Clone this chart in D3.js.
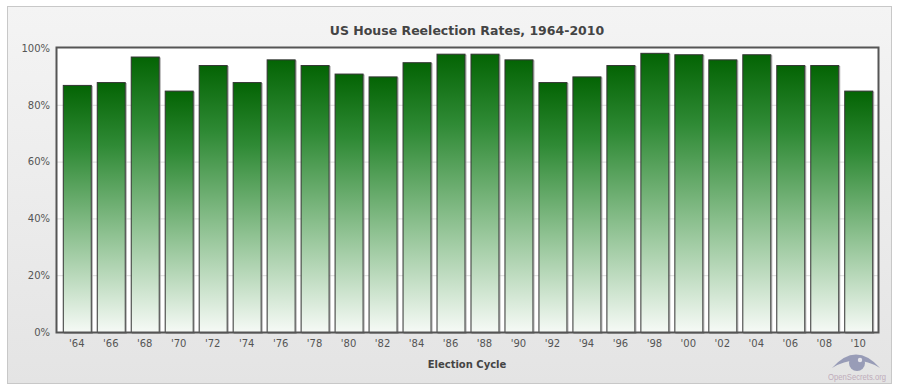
<!DOCTYPE html>
<html><head><meta charset="utf-8">
<script src="https://cdn.jsdelivr.net/npm/d3@7"></script>
<style>body{margin:0;background:#fff;}svg{display:block;font-family:"DejaVu Sans",Verdana,sans-serif;}</style>
</head><body><svg id="c" width="900" height="391"></svg>
<script>
const categories = ["'64","'66","'68","'70","'72","'74","'76","'78","'80","'82","'84","'86","'88","'90","'92","'94","'96","'98","'00","'02","'04","'06","'08","'10"];
const reelectionRates = [87,88,97,85,94,88,96,94,91,90,95,98,98,96,88,90,94,98.3,97.8,96,97.8,94,94,85];
const yTicks = [0,20,40,60,80,100];
const titleText = "US House Reelection Rates, 1964-2010";
const xTitle = "Election Cycle";

const svg = d3.select("#c");
const defs = svg.append("defs");
const pg = defs.append("linearGradient").attr("id","panelG").attr("x1",0).attr("y1",0).attr("x2",0).attr("y2",1);
pg.append("stop").attr("offset","0%").attr("stop-color","#f4f4f4");
pg.append("stop").attr("offset","100%").attr("stop-color","#e4e4e4");
const bg = defs.append("linearGradient").attr("id","barG").attr("x1",0).attr("y1",0).attr("x2",0).attr("y2",1);
bg.append("stop").attr("offset","0%").attr("stop-color","#046404");
bg.append("stop").attr("offset","25%").attr("stop-color","#2f8a35");
bg.append("stop").attr("offset","60%").attr("stop-color","#8cc08f");
bg.append("stop").attr("offset","100%").attr("stop-color","#f6faf6");

svg.append("rect").attr("x",7.5).attr("y",6.5).attr("width",884).attr("height",377)
  .attr("fill","url(#panelG)").attr("stroke","#c8c8c8");

const m = {l:57, r:878, t:48, b:332};
const x = d3.scaleBand().domain(categories).range([m.l, m.r]).paddingInner(0.176).paddingOuter(0.17);
const y = d3.scaleLinear().domain([0,100]).range([m.b, m.t]);

svg.append("rect").attr("x",m.l).attr("y",m.t).attr("width",m.r-m.l).attr("height",m.b-m.t).attr("fill","#fff");

// gridlines
svg.append("g").selectAll("line").data(yTicks.filter(d=>d>0 && d<100)).join("line")
  .attr("x1",m.l).attr("x2",m.r).attr("y1",d=>y(d)+0.5).attr("y2",d=>y(d)+0.5)
  .attr("stroke","#dcdcdc").attr("stroke-width",1);

// bars
const bars = svg.append("g");
bars.selectAll("rect.sh").data(reelectionRates).join("rect").attr("class","sh")
  .attr("x",(d,i)=>x(categories[i])+1.5).attr("y",d=>y(d)+1.5)
  .attr("width",x.bandwidth()).attr("height",d=>y(0)-y(d))
  .attr("fill","none").attr("stroke","#aaa").attr("stroke-width",1);
bars.selectAll("rect.b").data(reelectionRates).join("rect").attr("class","b")
  .attr("x",(d,i)=>x(categories[i])+0.5).attr("y",d=>y(d)+0.5)
  .attr("width",x.bandwidth()).attr("height",d=>y(0)-y(d))
  .attr("fill","url(#barG)").attr("stroke","#333").attr("stroke-width",1);

// frame
svg.append("rect").attr("x",m.l-0.5).attr("y",m.t-0.5).attr("width",m.r-m.l+1).attr("height",m.b-m.t+1)
  .attr("fill","none").attr("stroke","#555").attr("stroke-width",2);

// y axis labels
const yAxis = d3.axisLeft(y).tickValues(yTicks).tickFormat(d=>d+"%").tickSize(0).tickPadding(6);
const ya = svg.append("g").attr("transform",`translate(${m.l-1},0)`).call(yAxis);
ya.select(".domain").remove();
ya.selectAll("text").attr("font-size",10).attr("fill","#555").attr("font-family","DejaVu Sans, Verdana, sans-serif");

// x axis labels
const xAxis = d3.axisBottom(x).tickSize(0).tickPadding(8);
const xa = svg.append("g").attr("transform",`translate(0,${m.b})`).call(xAxis);
xa.select(".domain").remove();
xa.selectAll("text").attr("font-size",10).attr("fill","#555").attr("font-family","DejaVu Sans, Verdana, sans-serif");

svg.append("text").attr("x",467).attr("y",35).attr("text-anchor","middle")
  .attr("font-size",12.5).attr("font-weight","bold").attr("fill","#444").text(titleText);
svg.append("text").attr("x",467).attr("y",368).attr("text-anchor","middle")
  .attr("font-size",10).attr("font-weight","bold").attr("fill","#444").text(xTitle);

// watermark
const wm = svg.append("g").attr("opacity",0.75);
wm.append("path").attr("d","M832,368 Q856,341 880,368 Q856,353 832,368 Z").attr("fill","#7f84a8");
wm.append("circle").attr("cx",857).attr("cy",363).attr("r",8).attr("fill","#7f84a8");
wm.append("circle").attr("cx",860).attr("cy",360).attr("r",2.2).attr("fill","#e6e6ee");
wm.append("text").attr("x",857).attr("y",380).attr("text-anchor","middle").attr("font-size",9.5)
  .attr("textLength",58).attr("lengthAdjust","spacingAndGlyphs")
  .attr("font-family","Liberation Sans, sans-serif").attr("fill","#b39aae").text("OpenSecrets.org");
</script></body></html>
